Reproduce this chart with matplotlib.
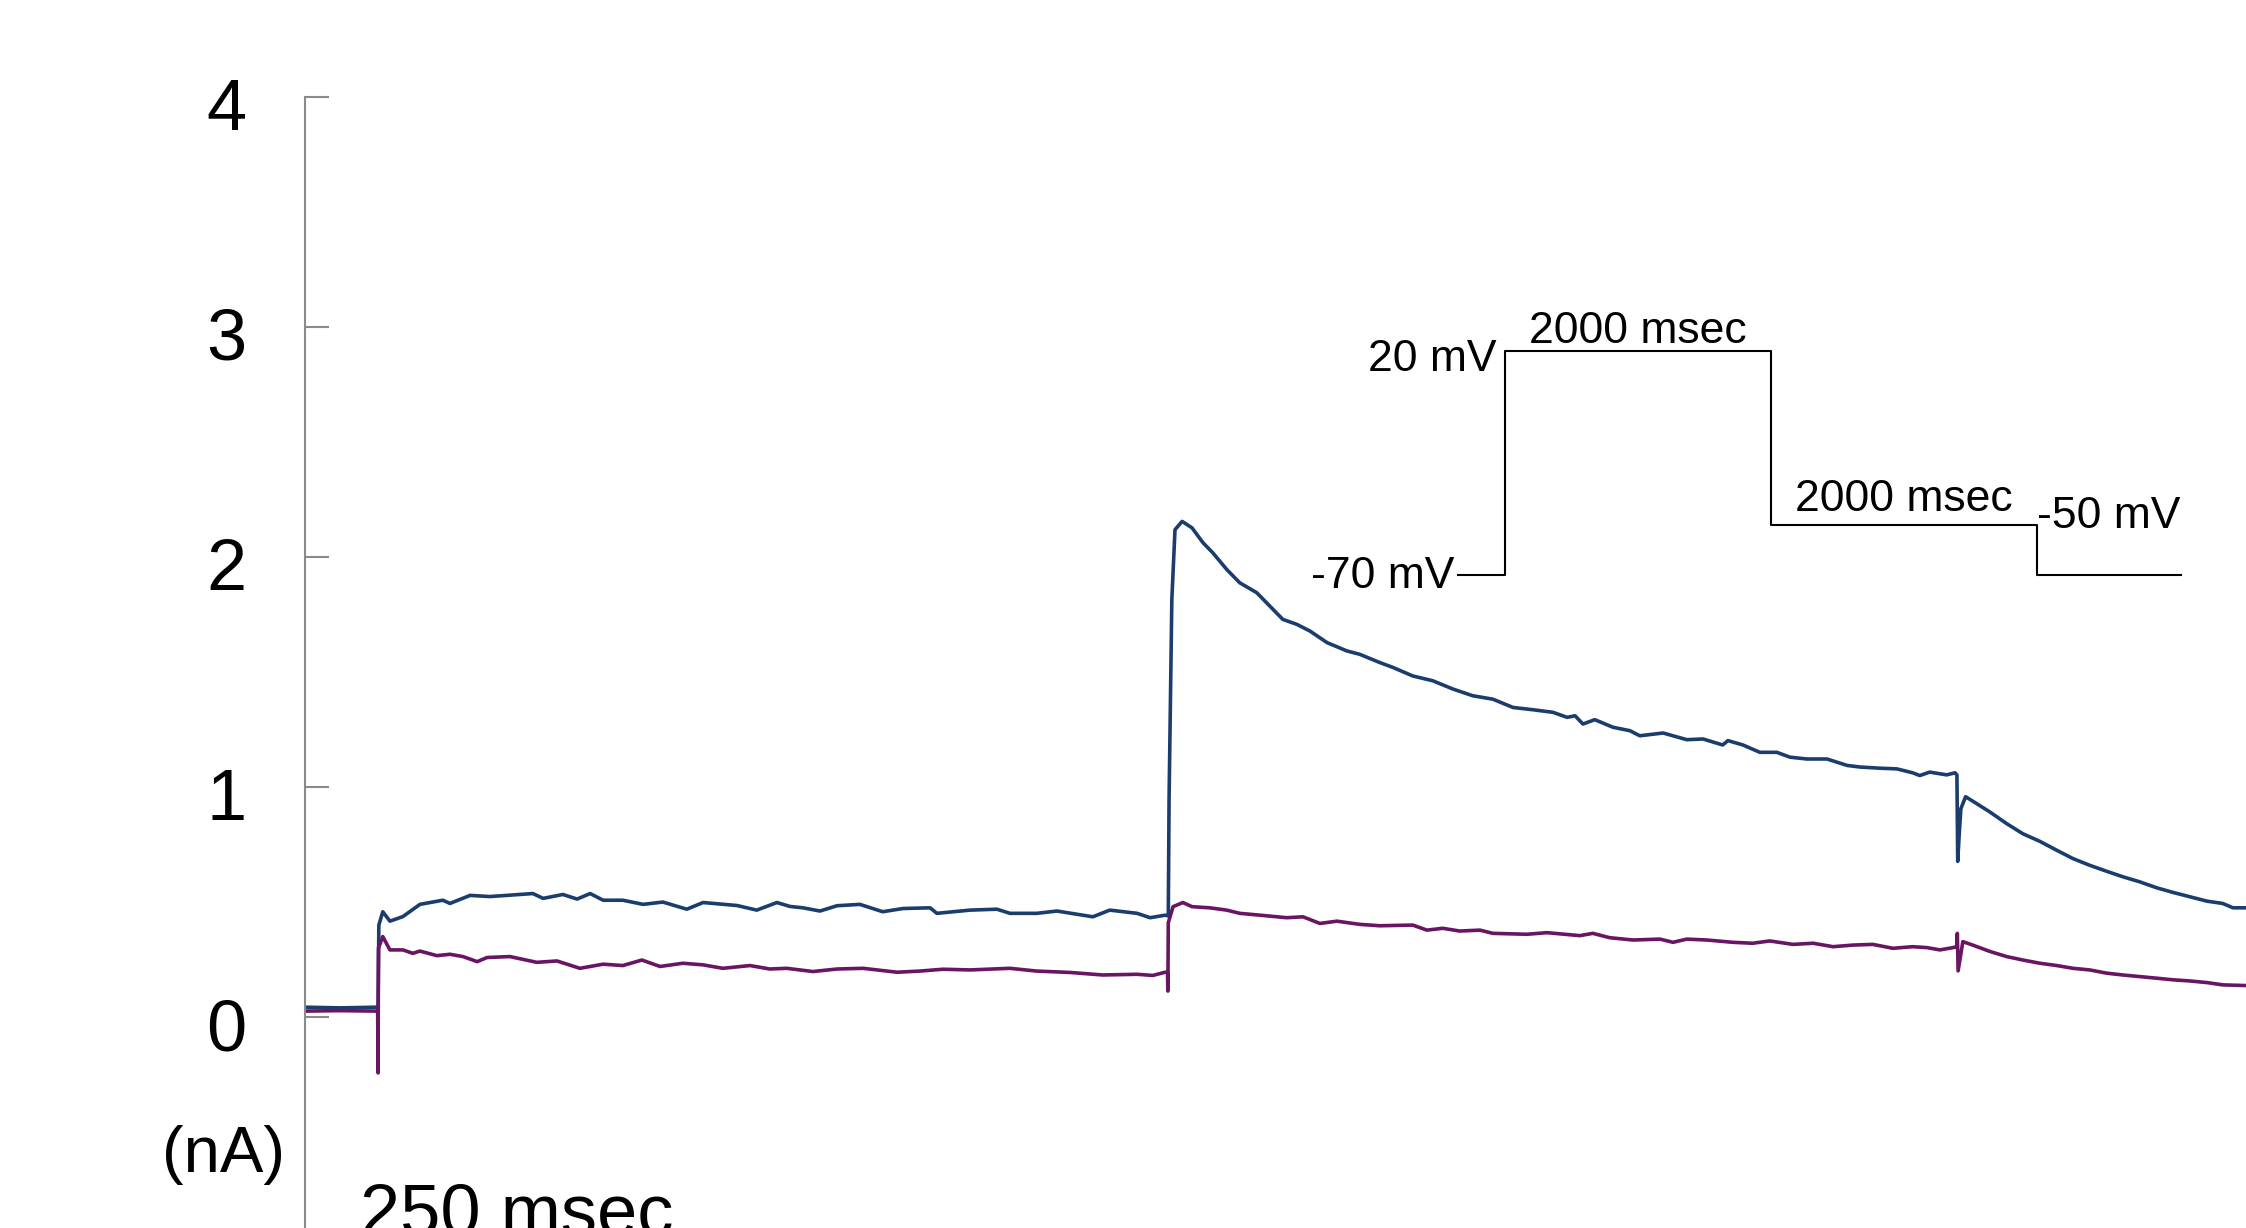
import matplotlib
matplotlib.use('Agg')
import matplotlib.pyplot as plt
import matplotlib.transforms as mtransforms

plt.rcParams['font.family'] = ['Liberation Sans', 'DejaVu Sans']

# time (msec) and current (nA)
blue_t = [65, 154, 247, 250, 252, 262, 280, 313, 356, 414, 432, 483, 533, 584, 642, 668,
          718, 754, 787, 820, 870, 921, 971, 1032, 1073, 1159, 1209, 1260, 1293, 1326,
          1369, 1412, 1470, 1528, 1579, 1648, 1665, 1749, 1817, 1850, 1918, 1969, 2060,
          2103, 2172, 2205, 2243, 2251, 2253, 2260, 2268, 2286, 2311, 2339, 2364, 2399,
          2432, 2475, 2508, 2541, 2577, 2610, 2653, 2703, 2736, 2787, 2820, 2870, 2921,
          2972, 3022, 3073, 3124, 3175, 3225, 3261, 3281, 3301, 3331, 3377, 3420, 3445,
          3504, 3564, 3605, 3655, 3668, 3706, 3749, 3792, 3825, 3868, 3919, 3970, 4003,
          4053, 4096, 4136, 4154, 4179, 4222, 4243, 4248, 4250, 4254, 4258, 4270, 4299,
          4332, 4374, 4415, 4458, 4501, 4542, 4584, 4627, 4668, 4711, 4754, 4795, 4838,
          4881, 4921, 4947, 4980]
blue_i = [0.043, 0.040, 0.043, 0.043, 0.40, 0.458, 0.417, 0.437, 0.49, 0.508, 0.494, 0.529,
          0.524, 0.530, 0.537, 0.516, 0.533, 0.513, 0.537, 0.508, 0.508, 0.49, 0.50, 0.469,
          0.498, 0.485, 0.465, 0.498, 0.481, 0.475, 0.461, 0.484, 0.49, 0.458, 0.472, 0.475,
          0.451, 0.465, 0.469, 0.451, 0.451, 0.461, 0.436, 0.465, 0.451, 0.432, 0.443, 0.44,
          0.949, 1.816, 2.119, 2.155, 2.127, 2.062, 2.018, 1.946, 1.888, 1.845, 1.787, 1.729,
          1.707, 1.678, 1.628, 1.592, 1.577, 1.541, 1.52, 1.483, 1.462, 1.426, 1.397, 1.382,
          1.346, 1.336, 1.325, 1.303, 1.31, 1.274, 1.293, 1.26, 1.245, 1.223, 1.235, 1.206,
          1.209, 1.183, 1.202, 1.183, 1.151, 1.151, 1.13, 1.122, 1.122, 1.094, 1.087, 1.082,
          1.079, 1.062, 1.05, 1.065, 1.053, 1.062, 1.053, 0.677, 0.80, 0.906, 0.958, 0.927,
          0.891, 0.841, 0.797, 0.764, 0.725, 0.689, 0.66, 0.634, 0.61, 0.588, 0.562, 0.542,
          0.523, 0.504, 0.494, 0.475, 0.475]

purple_t = [65, 150, 247, 249, 250, 251, 262, 280, 313, 338, 356, 399, 432, 465, 501, 526,
            584, 652, 703, 761, 820, 870, 918, 964, 1022, 1073, 1123, 1192, 1242, 1285,
            1351, 1412, 1478, 1564, 1622, 1680, 1749, 1850, 1918, 2002, 2085, 2172, 2212,
            2243, 2249, 2250, 2251, 2263, 2288, 2311, 2356, 2399, 2432, 2483, 2551, 2592,
            2635, 2678, 2736, 2787, 2870, 2906, 2946, 2989, 3040, 3073, 3159, 3210, 3293,
            3326, 3369, 3428, 3496, 3529, 3564, 3615, 3681, 3731, 3774, 3833, 3884, 3934,
            3985, 4035, 4086, 4136, 4172, 4205, 4238, 4248, 4249, 4251, 4263, 4288, 4332,
            4374, 4415, 4458, 4501, 4542, 4584, 4627, 4668, 4711, 4754, 4795, 4838, 4881,
            4921, 4980]
purple_i = [0.026, 0.028, 0.026, 0.026, -0.243, 0.30, 0.35, 0.292, 0.292, 0.277, 0.287,
            0.267, 0.273, 0.263, 0.241, 0.259, 0.263, 0.238, 0.244, 0.212, 0.23, 0.224,
            0.248, 0.22, 0.234, 0.227, 0.212, 0.224, 0.209, 0.212, 0.198, 0.209, 0.212,
            0.195, 0.2, 0.208, 0.205, 0.212, 0.2, 0.194, 0.183, 0.186, 0.181, 0.195, 0.195,
            0.113, 0.41, 0.48, 0.498, 0.48, 0.475, 0.465, 0.451, 0.443, 0.432, 0.436, 0.407,
            0.417, 0.403, 0.397, 0.4, 0.378, 0.386, 0.374, 0.378, 0.364, 0.36, 0.367, 0.354,
            0.364, 0.345, 0.335, 0.339, 0.325, 0.339, 0.335, 0.325, 0.321, 0.331, 0.316,
            0.321, 0.306, 0.313, 0.316, 0.299, 0.306, 0.302, 0.292, 0.302, 0.306, 0.364,
            0.201, 0.328, 0.313, 0.285, 0.263, 0.248, 0.234, 0.224, 0.212, 0.205, 0.191,
            0.183, 0.176, 0.169, 0.162, 0.157, 0.15, 0.14, 0.137]

y_ticks = [0, 1, 2, 3, 4]

# voltage protocol shown in the inset
protocol_ms = [0, 350, 2350, 4350, 5430]
protocol_mv = [-70, 20, -50, -70, -70]

fig = plt.figure(figsize=(22.46, 12.28), dpi=100)
ax = fig.add_axes([0.1358, 0.0, 0.8642, 0.9210])

ax.plot(blue_t, blue_i, color='#1b3d6d', lw=2.6)
ax.plot(purple_t, purple_i, color='#6a1563', lw=2.6)

ax.set_xlim(65, 4980)
ax.set_ylim(-0.917, 4)
ax.set_yticks(y_ticks)
ax.set_yticklabels([str(v) for v in y_ticks])
ax.set_xticks([])
for s in ['top', 'right', 'bottom']:
    ax.spines[s].set_visible(False)
ax.spines['left'].set_color('#8a8a8a')
ax.spines['left'].set_linewidth(1.5)
ax.tick_params(axis='y', direction='in', length=17, width=1.5, color='#8a8a8a',
               labelsize=52, pad=42)
# labels sit a little below their ticks in the original
shift = mtransforms.ScaledTranslation(0, -5 / 72, fig.dpi_scale_trans)
for lab in ax.get_yticklabels():
    lab.set_transform(lab.get_transform() + shift)

fig.text(0.0993, 0.0594, '(nA)', fontsize=47, ha='center', va='center')
fig.text(0.1603, -0.005, '250 msec', fontsize=52, ha='left', va='baseline')

# protocol inset
ins = fig.add_axes([0.6492, 0.5318, 0.3219, 0.1824])
ins.plot(protocol_ms, protocol_mv, drawstyle='steps-post', color='black', lw=1.5,
         clip_on=False)
ins.set_xlim(protocol_ms[0], protocol_ms[-1])
ins.set_ylim(-70, 20)
ins.axis('off')

fs = 32
ins.annotate('-70 mV', (protocol_ms[0], protocol_mv[0]), xytext=(-3, -1),
             textcoords='offset points', ha='right', va='center', fontsize=fs)
ins.annotate('20 mV', (protocol_ms[1], protocol_mv[1]), xytext=(-6, -6),
             textcoords='offset points', ha='right', va='center', fontsize=fs)
ins.annotate('2000 msec', ((protocol_ms[1] + protocol_ms[2]) / 2, protocol_mv[1]),
             xytext=(0, 6), textcoords='offset points', ha='center', va='baseline',
             fontsize=fs)
ins.annotate('2000 msec', ((protocol_ms[2] + protocol_ms[3]) / 2, protocol_mv[2]),
             xytext=(0, 10), textcoords='offset points', ha='center', va='baseline',
             fontsize=fs)
ins.annotate('-50 mV', (protocol_ms[3], protocol_mv[2]), xytext=(0, 6),
             textcoords='offset points', ha='left', va='center', fontsize=fs)

fig.savefig('out.png', dpi=100)
